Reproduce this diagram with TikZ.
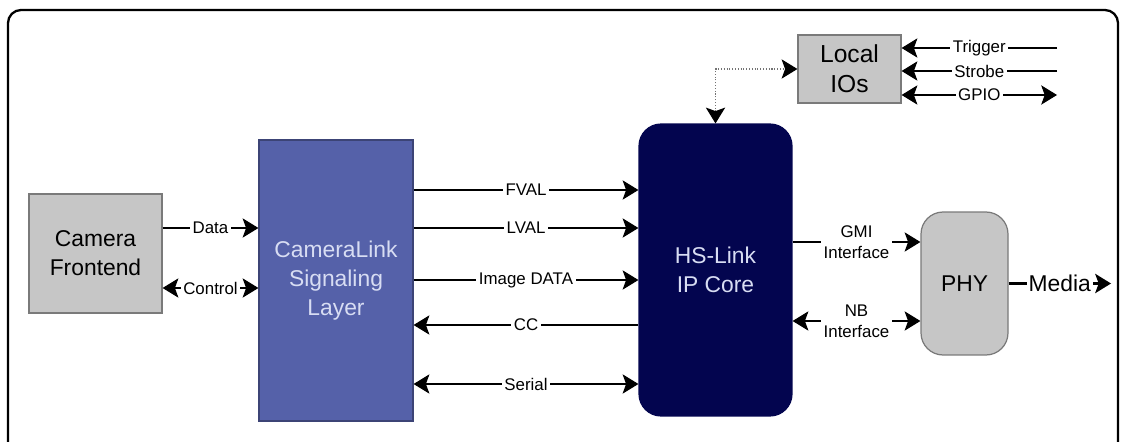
\documentclass[tikz,border=0pt]{standalone}
\usepackage{fontspec}
\setmainfont{Liberation Sans}
\usetikzlibrary{arrows.meta, positioning}

\definecolor{boxgray}{HTML}{C6C6C6}
\definecolor{edgegray}{HTML}{7A7A7A}
\definecolor{linkblue}{HTML}{5561A9}
\definecolor{linktext}{HTML}{D8DDF3}
\definecolor{corenavy}{HTML}{03054F}

\begin{document}
\begin{tikzpicture}[x=0.02cm, y=-0.02cm,
        sharp/.tip={Stealth[length=9pt, width=11pt, inset=2pt, color=black]},
        blk/.style={draw=edgegray, fill=boxgray, line width=0.7pt, inner sep=0pt,
            align=center, font=\fontsize{13}{16.5}\selectfont},
        sig/.style={line width=0.6pt},
        lbl/.style={fill=white, inner sep=1.5pt, align=center,
            font=\fontsize{9.6}{12}\selectfont}]

      \useasboundingbox (0,0) rectangle (1122,442);

      % Frame
      \draw[line width=1.3pt, rounded corners=0.26cm] (8,10) rectangle (1118,480);

      % Blocks
      \node[blk, minimum width=2.66cm, minimum height=2.38cm] (cam) at (95.5,253.5) {Camera\\Frontend};
      \node[blk, draw=linkblue!70!black, fill=linkblue, text=linktext,
            minimum width=3.08cm, minimum height=5.62cm] (clink) at (336,280.5) {CameraLink\\Signaling\\Layer};
      \node[blk, draw=corenavy, fill=corenavy, text=linktext, rounded corners=0.44cm,
            minimum width=3.06cm, minimum height=5.84cm] (core) at (715.5,270) {HS-Link\\IP Core};
      \node[blk, minimum width=2.06cm, minimum height=1.36cm,
            font=\fontsize{14}{17}\selectfont] (localio) at (849.5,69) {Local\\IOs};
      \node[blk, rounded corners=0.44cm, minimum width=1.74cm, minimum height=2.86cm] (phy) at (964.5,283.5) {PHY};

      % Free ends
      \coordinate (trigEnd) at (1057,48);
      \coordinate (strbEnd) at (1057,71);
      \coordinate (gpioEnd) at (1057,95);
      \coordinate (mediaEnd) at (1111,283.5);

      % Camera to CameraLink
      \draw[sig, -sharp] (cam.east |- 0,228) -- node[lbl] {Data} (clink.west |- 0,228);
      \draw[sig, sharp-sharp] (cam.east |- 0,288) -- node[lbl] {Control} (clink.west |- 0,288);

      % CameraLink to HS-Link
      \draw[sig, -sharp] (clink.east |- 0,190) -- node[lbl] {FVAL} (core.west |- 0,190);
      \draw[sig, -sharp] (clink.east |- 0,228) -- node[lbl] {LVAL} (core.west |- 0,228);
      \draw[sig, -sharp] (clink.east |- 0,280) -- node[lbl] {Image DATA} (core.west |- 0,280);
      \draw[sig, sharp-] (clink.east |- 0,325) -- node[lbl] {CC} (core.west |- 0,325);
      \draw[sig, sharp-sharp] (clink.east |- 0,384) -- node[lbl] {Serial} (core.west |- 0,384);

      % HS-Link to Local IOs
      \draw[line width=0.6pt, black!55, densely dotted, sharp-sharp] (core.north) |- (localio.west);

      % Local IO lines
      \draw[sig, -sharp] (trigEnd) -- node[lbl] {Trigger} (localio.east |- trigEnd);
      \draw[sig, -sharp] (strbEnd) -- node[lbl] {Strobe} (localio.east |- strbEnd);
      \draw[sig, sharp-sharp] (localio.east |- gpioEnd) -- node[lbl] {GPIO} (gpioEnd);

      % HS-Link to PHY
      \draw[sig, -sharp] (core.east |- 0,242) -- node[lbl] {GMI\\Interface} (phy.west |- 0,242);
      \draw[sig, sharp-sharp] (core.east |- 0,321) -- node[lbl] {NB\\Interface} (phy.west |- 0,321);

      % Media
      \draw[sig, line width=1.2pt, -sharp] (phy.east) -- node[lbl, inner sep=1pt, font=\fontsize{13}{15}\selectfont] {Media} (mediaEnd);

    \end{tikzpicture}
\end{document}
